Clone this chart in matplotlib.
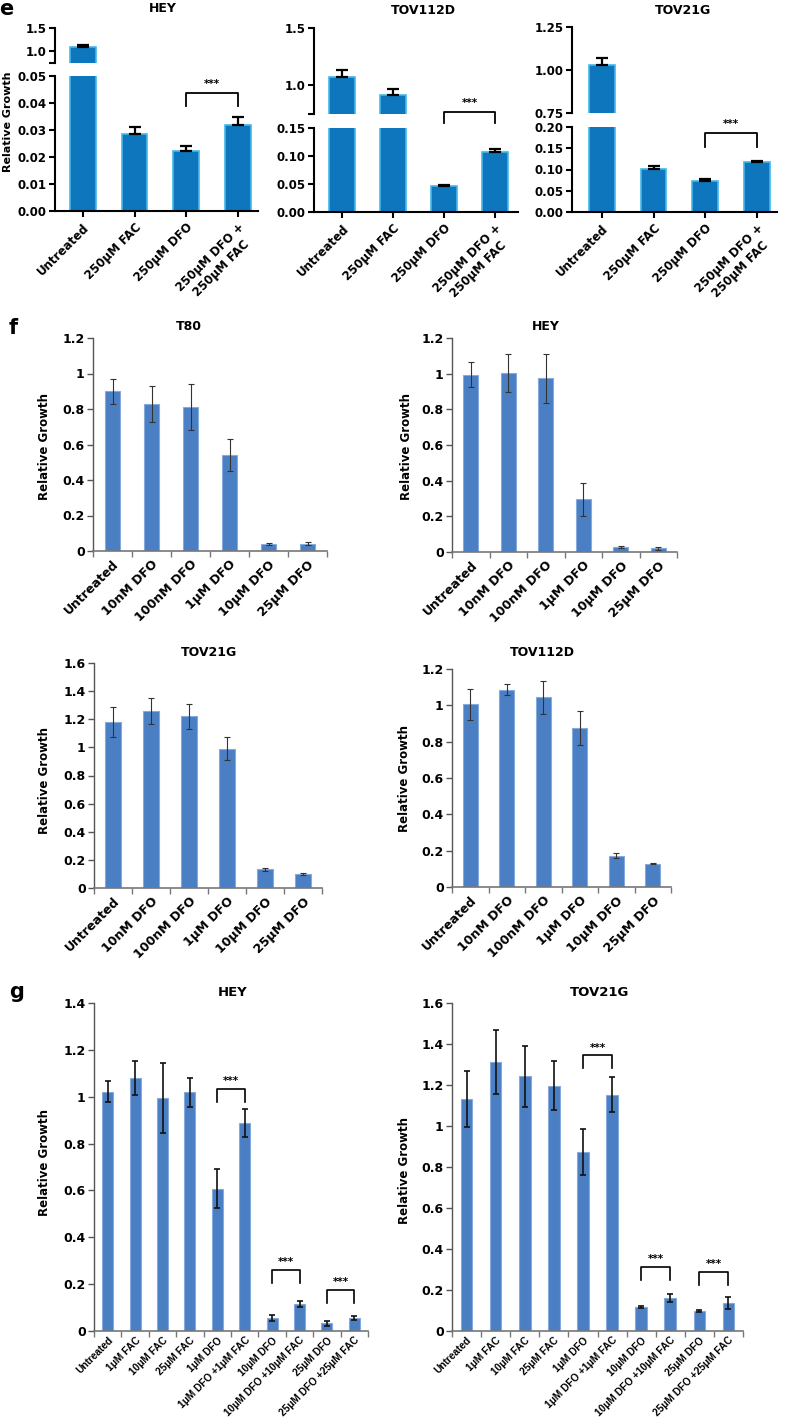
import matplotlib
matplotlib.use('Agg')
import matplotlib.pyplot as plt
import numpy as np

plt.rcParams['font.family'] = ['DejaVu Sans']
plt.rcParams['font.weight'] = 'bold'
plt.rcParams['axes.labelweight'] = 'bold'

# ---------------- data ----------------
e_labels = ["Untreated", "250\u03bcM FAC", "250\u03bcM DFO", "250\u03bcM DFO +\n250\u03bcM FAC"]
e_hey_vals = [1.08, 0.0285, 0.0221, 0.0320]
e_hey_err = [0.06, 0.0025, 0.0018, 0.0027]
e_tov112d_vals = [1.07, 0.92, 0.047, 0.107]
e_tov112d_err = [0.06, 0.05, 0.002, 0.006]
e_tov21g_vals = [1.03, 0.101, 0.074, 0.117]
e_tov21g_err = [0.04, 0.008, 0.004, 0.003]

f_labels = ["Untreated", "10nM DFO", "100nM DFO", "1\u03bcM DFO", "10\u03bcM DFO", "25\u03bcM DFO"]
f_t80_vals = [0.90, 0.827, 0.81, 0.54, 0.038, 0.042]
f_t80_err = [0.07, 0.10, 0.13, 0.09, 0.005, 0.007]
f_hey_vals = [0.994, 1.005, 0.973, 0.296, 0.028, 0.021]
f_hey_err = [0.07, 0.105, 0.135, 0.093, 0.006, 0.007]
f_tov21g_vals = [1.179, 1.258, 1.222, 0.991, 0.133, 0.100]
f_tov21g_err = [0.107, 0.095, 0.09, 0.08, 0.01, 0.004]
f_tov112d_vals = [1.007, 1.086, 1.044, 0.876, 0.173, 0.129]
f_tov112d_err = [0.085, 0.03, 0.092, 0.095, 0.016, 0.004]

g_labels = ["Untreated", "1\u03bcM FAC", "10\u03bcM FAC", "25\u03bcM FAC", "1\u03bcM DFO",
            "1\u03bcM DFO +1\u03bcM FAC", "10\u03bcM DFO", "10\u03bcM DFO +10\u03bcM FAC",
            "25\u03bcM DFO", "25\u03bcM DFO +25\u03bcM FAC"]
g_hey_vals = [1.022, 1.079, 0.994, 1.019, 0.607, 0.889, 0.055, 0.115, 0.033, 0.056]
g_hey_err = [0.046, 0.073, 0.15, 0.061, 0.084, 0.06, 0.013, 0.014, 0.01, 0.01]
g_tov21g_vals = [1.133, 1.311, 1.243, 1.197, 0.873, 1.153, 0.116, 0.160, 0.098, 0.138]
g_tov21g_err = [0.136, 0.155, 0.148, 0.118, 0.114, 0.085, 0.004, 0.02, 0.005, 0.03]

# ---------------- styling / layout ----------------
W, H = 787, 1423
fig = plt.figure(figsize=(W / 100, H / 100), dpi=100)

E_FILL, E_EDGE = '#0e76bd', '#45b8ea'
G_FILL, G_EDGE = '#4a7fc4', '#86aadb'


def rect(x0, y0, x1, y1):
    return [x0 / W, 1 - y1 / H, (x1 - x0) / W, (y1 - y0) / H]


def ftext(x, y, s, **kw):
    fig.text(x / W, 1 - y / H, s, **kw)


def bracket(ax, i, j, top, leg, lw=1.2, fs=7, off=2):
    ax.plot([i, i, j, j], [leg, top, top, leg], color='k', lw=lw, clip_on=False, zorder=5)
    ax.annotate('***', xy=((i + j) / 2, top), xytext=(0, off), textcoords='offset points',
                ha='center', va='bottom', fontsize=fs, annotation_clip=False)


def e_panel(xr, uy, ly, vals, errs, ulim, uticks, ulabels, llim, lticks, llabels, xlim, br):
    axu = fig.add_axes(rect(xr[0], uy[0], xr[1], uy[1]))
    axl = fig.add_axes(rect(xr[0], ly[0], xr[1], ly[1]))
    x = np.arange(len(vals))
    for ax in (axu, axl):
        ax.bar(x, vals, width=0.5, color=E_FILL, edgecolor=E_EDGE, linewidth=1.2, zorder=2)
        ax.errorbar(x, vals, yerr=[np.zeros(len(errs)), errs], fmt='none', ecolor='k',
                    elinewidth=1.6, capsize=4, capthick=1.6, zorder=3)
        ax.set_xlim(*xlim)
        for s in ('top', 'right'):
            ax.spines[s].set_visible(False)
        ax.spines['left'].set_linewidth(1.5)
        ax.tick_params(axis='y', direction='out', length=4, width=1.5, labelsize=8.5, pad=2)
    axu.set_ylim(*ulim)
    axu.spines['bottom'].set_visible(False)
    axu.set_xticks([])
    axu.set_yticks(uticks)
    axu.set_yticklabels(ulabels)
    axl.set_ylim(*llim)
    axl.set_yticks(lticks)
    axl.set_yticklabels(llabels)
    axl.spines['bottom'].set_linewidth(1.5)
    axl.set_xticks(x)
    axl.set_xticklabels(e_labels, rotation=45, ha='right', va='top', rotation_mode='anchor',
                        fontsize=8.5, multialignment='center')
    axl.tick_params(axis='x', direction='out', length=4, width=1.5, pad=3)
    bracket(axl, br[0], br[1], br[2], br[3], lw=1.3, fs=7.5, off=3)
    return axu, axl


# ---------------- panel e ----------------
e_panel((55, 258), (28, 62.5), (76, 211), e_hey_vals, e_hey_err,
        (0.75, 1.5), [0.75, 1.0, 1.5], ['', '1.0', '1.5'],
        (0, 0.05), [0, 0.01, 0.02, 0.03, 0.04, 0.05],
        ['0.00', '0.01', '0.02', '0.03', '0.04', '0.05'],
        (-0.54, 3.39), (2, 3, 0.0437, 0.039))
e_panel((314, 518), (28, 114), (128, 212), e_tov112d_vals, e_tov112d_err,
        (0.75, 1.5), [0.75, 1.0, 1.5], ['', '1.0', '1.5'],
        (0, 0.15), [0, 0.05, 0.10, 0.15], ['0.00', '0.05', '0.10', '0.15'],
        (-0.55, 3.45), (2, 3, 0.1786, 0.159))
e_panel((572, 777), (27, 113), (127, 212), e_tov21g_vals, e_tov21g_err,
        (0.75, 1.25), [0.75, 1.0, 1.25], ['0.75', '1.00', '1.25'],
        (0, 0.2), [0, 0.05, 0.10, 0.15, 0.20], ['0.00', '0.05', '0.10', '0.15', '0.20'],
        (-0.58, 3.39), (2, 3, 0.186, 0.153))

ftext(163, 9, 'HEY', ha='center', va='center', fontsize=9)
ftext(423, 10, 'TOV112D', ha='center', va='center', fontsize=9)
ftext(683, 10, 'TOV21G', ha='center', va='center', fontsize=9)
ftext(8, 122, 'Relative Growth', rotation=90, ha='center', va='center', fontsize=8)
ftext(6, 9, 'e', ha='center', va='center', fontsize=15)


# ---------------- excel style panels ----------------
def excel_panel(r, vals, errs, labels, ylim, yticks, yticklabels, xfs, elw, ecol, cap,
                brackets=(), xfamily=None, xpad=5):
    ax = fig.add_axes(rect(*r))
    n = len(vals)
    x = np.arange(n)
    ax.bar(x, vals, width=0.4, color=G_FILL, edgecolor=G_EDGE, linewidth=0.8, zorder=2)
    ax.errorbar(x, vals, yerr=errs, fmt='none', ecolor=ecol, elinewidth=elw, capsize=cap,
                capthick=elw, zorder=3)
    ax.set_xlim(-0.5, n - 0.5)
    ax.set_ylim(*ylim)
    for s in ('top', 'right'):
        ax.spines[s].set_visible(False)
    ax.spines['left'].set_color('#555555')
    ax.spines['bottom'].set_color('#777777')
    ax.spines['left'].set_linewidth(1.0)
    ax.spines['bottom'].set_linewidth(1.2)
    ax.set_yticks(yticks)
    ax.set_yticklabels(yticklabels)
    ax.tick_params(axis='y', direction='out', length=4, width=1, color='#555555',
                   labelsize=9, pad=2)
    ax.set_xticks(x)
    kw = {}
    if xfamily:
        kw['family'] = xfamily
    ax.set_xticklabels(labels, rotation=45, ha='right', va='top', rotation_mode='anchor',
                       fontsize=xfs, fontweight='bold', **kw)
    ax.tick_params(axis='x', which='major', length=0, pad=xpad)
    ax.set_xticks(np.arange(n + 1) - 0.5, minor=True)
    ax.tick_params(axis='x', which='minor', direction='out', length=4, width=1, color='#777777')
    for b in brackets:
        bracket(ax, *b, lw=1.2, fs=7.5, off=2)
    return ax


yt12 = [0, 0.2, 0.4, 0.6, 0.8, 1.0, 1.2]
yl12 = ['0', '0.2', '0.4', '0.6', '0.8', '1', '1.2']
yt14 = yt12 + [1.4]
yl14 = yl12 + ['1.4']
yt16 = yt14 + [1.6]
yl16 = yl14 + ['1.6']

excel_panel((93, 338, 327, 551), f_t80_vals, f_t80_err, f_labels, (0, 1.2), yt12, yl12,
            9, 0.8, '#333333', 2)
excel_panel((452, 338, 677, 552), f_hey_vals, f_hey_err, f_labels, (0, 1.2), yt12, yl12,
            9, 0.8, '#333333', 2)
excel_panel((94, 663, 322, 888), f_tov21g_vals, f_tov21g_err, f_labels, (0, 1.6), yt16, yl16,
            9, 0.8, '#333333', 2)
excel_panel((452, 669, 671, 887), f_tov112d_vals, f_tov112d_err, f_labels, (0, 1.2), yt12, yl12,
            9, 0.8, '#333333', 2)

ftext(189, 327, 'T80', ha='center', va='center', fontsize=9)
ftext(546, 327, 'HEY', ha='center', va='center', fontsize=9)
ftext(209, 653, 'TOV21G', ha='center', va='center', fontsize=9)
ftext(542, 652, 'TOV112D', ha='center', va='center', fontsize=9)
ftext(45, 447, 'Relative Growth', rotation=90, ha='center', va='center', fontsize=8.5)
ftext(407, 447, 'Relative Growth', rotation=90, ha='center', va='center', fontsize=8.5)
ftext(45, 780, 'Relative Growth', rotation=90, ha='center', va='center', fontsize=8.5)
ftext(405, 778, 'Relative Growth', rotation=90, ha='center', va='center', fontsize=8.5)
ftext(13, 328, 'f', ha='center', va='center', fontsize=15)

# ---------------- panel g ----------------
excel_panel((94, 1003, 368, 1331), g_hey_vals, g_hey_err, g_labels, (0, 1.4), yt14, yl14,
            7.3, 1.2, '#111111', 2.2,
            brackets=[(4, 5, 1.034, 0.979), (6, 7, 0.26, 0.205), (8, 9, 0.175, 0.12)],
            xfamily='Liberation Sans', xpad=3)
excel_panel((452, 1003, 743, 1331), g_tov21g_vals, g_tov21g_err, g_labels, (0, 1.6), yt16, yl16,
            7.3, 1.2, '#111111', 2.2,
            brackets=[(4, 5, 1.344, 1.283), (6, 7, 0.314, 0.249), (8, 9, 0.29, 0.225)],
            xfamily='Liberation Sans', xpad=3)

ftext(233, 992, 'HEY', ha='center', va='center', fontsize=9.5)
ftext(600, 992, 'TOV21G', ha='center', va='center', fontsize=9.5)
ftext(45, 1163, 'Relative Growth', rotation=90, ha='center', va='center', fontsize=8.5)
ftext(405, 1170, 'Relative Growth', rotation=90, ha='center', va='center', fontsize=8.5)
ftext(17, 992, 'g', ha='center', va='center', fontsize=15)

fig.savefig('out.png', dpi=100)
